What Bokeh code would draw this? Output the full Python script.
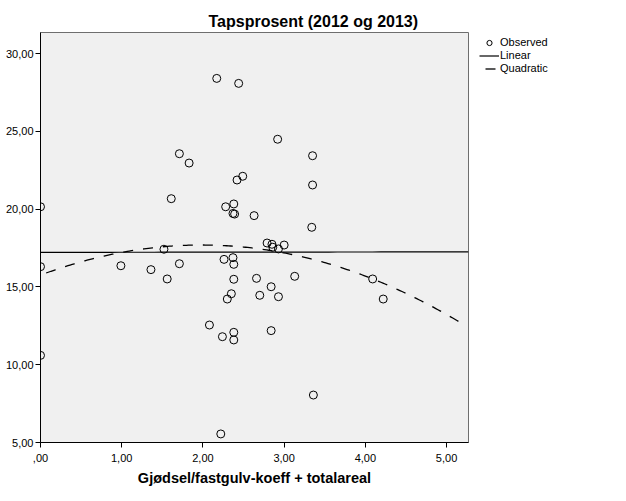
import numpy as np
from bokeh.plotting import figure
from bokeh.layouts import row
from bokeh.models import (Range1d, FixedTicker, Legend, LegendItem, ColumnDataSource)
from bokeh.embed import file_html
from bokeh.resources import INLINE

# ---- data ----
x_obs = [2.17, 2.44, 1.71, 1.83, 2.49, 2.42, 0.00, 1.61, 2.28, 2.38,
         2.37, 2.39, 1.52, 2.92, 3.35, 3.35, 2.63, 3.34, 2.79, 2.85,
         2.86, 2.93, 3.00, 0.00, 0.99, 1.36, 1.56, 1.71, 2.26, 2.37,
         2.38, 2.38, 2.35, 2.30, 2.08, 2.24, 2.38, 2.38, 0.00, 2.22,
         2.66, 2.84, 3.13, 2.70, 2.93, 4.09, 4.22, 2.84, 3.36]
y_obs = [28.40, 28.08, 23.56, 22.96, 22.11, 21.87, 20.15, 20.67, 20.15, 20.33,
         19.72, 19.68, 17.42, 24.49, 23.43, 21.55, 19.58, 18.83, 17.82, 17.74,
         17.55, 17.44, 17.69, 16.30, 16.36, 16.11, 15.51, 16.49, 16.77, 16.88,
         16.45, 15.49, 14.56, 14.22, 12.55, 11.80, 12.08, 11.59, 10.60, 5.55,
         15.55, 15.01, 15.68, 14.46, 14.37, 15.51, 14.22, 12.19, 8.05]

linear_coef = [17.22, 0.006]            # intercept, slope
quad_coef = [15.76, 1.948, -0.491]      # b0, b1, b2
linear_span = [0.0, 5.27]
quad_span = [0.0, 5.18]

x_ticks = [0, 1, 2, 3, 4, 5]
x_tick_labels = [",00", "1,00", "2,00", "3,00", "4,00", "5,00"]
y_ticks = [5, 10, 15, 20, 25, 30]
y_tick_labels = ["5,00", "10,00", "15,00", "20,00", "25,00", "30,00"]

title_text = "Tapsprosent (2012 og 2013)"
x_label = "Gjødsel/fastgulv-koeff + totalareal"
legend_labels = ["Observed", "Linear", "Quadratic"]

FONT = "Liberation Sans"
H = 490

p = figure(frame_width=428, frame_height=410, output_backend="svg",
           toolbar_location=None,
           x_range=Range1d(0, 5.27), y_range=Range1d(5, 31.35),
           min_border_left=40, min_border_right=2, min_border_top=32,
           min_border_bottom=H - 32 - 410)

p.background_fill_color = "#F0F0F0"
p.border_fill_color = "white"
p.outline_line_color = "#6e6e6e"
p.outline_line_width = 1
p.grid.visible = False

# title
p.title.text = title_text
p.title.text_font = FONT
p.title.text_font_size = "16px"
p.title.text_font_style = "bold"
p.title.text_color = "black"
p.title.align = "left"
p.title.offset = 168
p.title.standoff = 5

# axes
for ax in (p.xaxis[0], p.yaxis[0]):
    ax.axis_line_color = "black"
    ax.axis_line_width = 1
    ax.major_tick_line_color = "black"
    ax.major_tick_out = 5
    ax.major_tick_in = 0
    ax.minor_tick_line_color = None
    ax.major_label_text_font = FONT
    ax.major_label_text_font_size = "11px"
    ax.major_label_text_color = "black"
    ax.major_label_standoff = 2

p.xaxis.ticker = FixedTicker(ticks=x_ticks)
p.xaxis.major_label_overrides = {t: l for t, l in zip(x_ticks, x_tick_labels)}
p.yaxis.ticker = FixedTicker(ticks=y_ticks)
p.yaxis.major_label_overrides = {t: l for t, l in zip(y_ticks, y_tick_labels)}
p.xaxis.major_label_standoff = 6

p.xaxis.axis_label = x_label
p.xaxis.axis_label_text_font = FONT
p.xaxis.axis_label_text_font_size = "14.5px"
p.xaxis.axis_label_text_font_style = "bold"
p.xaxis.axis_label_text_color = "black"
p.xaxis.axis_label_standoff = 5

# observed points
src = ColumnDataSource(dict(x=x_obs, y=y_obs))
p.scatter("x", "y", source=src, marker="circle", size=8,
          fill_color=None, line_color="black", line_width=1)

# linear fit
xl = np.linspace(linear_span[0], linear_span[1], 50)
yl = linear_coef[0] + linear_coef[1] * xl
lin_src = ColumnDataSource(dict(x=xl, y=yl))
p.line("x", "y", source=lin_src, line_color="black", line_width=1.2)

# quadratic fit
xq = np.linspace(quad_span[0], quad_span[1], 200)
yq = quad_coef[0] + quad_coef[1] * xq + quad_coef[2] * xq ** 2
quad_src = ColumnDataSource(dict(x=xq, y=yq))
p.line("x", "y", source=quad_src, line_color="black", line_width=1.3,
       line_dash="10 10", line_dash_offset=14)

# ---- legend panel (separate figure, so the legend is not clipped) ----
# its ranges lie outside the data, so its renderers only feed the legend
p2 = figure(width=140, height=H, output_backend="svg", toolbar_location=None,
            x_range=Range1d(-3, -2), y_range=Range1d(-3, -2),
            x_axis_type=None, y_axis_type=None,
            min_border_left=0, min_border_right=0, min_border_top=15,
            min_border_bottom=0)
p2.outline_line_color = None
p2.grid.visible = False
p2.background_fill_color = "white"
p2.border_fill_color = "white"

l_obs = p2.scatter("x", "y", source=src, marker="circle", size=8,
                   fill_color=None, line_color="black", line_width=1)
l_lin = p2.line("x", "y", source=lin_src, line_color="black", line_width=1.2)
l_quad = p2.line("x", "y", source=quad_src, line_color="black", line_width=1.3,
                 line_dash="10 10", line_dash_offset=14)

legend = Legend(items=[LegendItem(label=legend_labels[0], renderers=[l_obs]),
                       LegendItem(label=legend_labels[1], renderers=[l_lin]),
                       LegendItem(label=legend_labels[2], renderers=[l_quad])],
                location=(9, 367.5))
legend.border_line_color = None
legend.background_fill_alpha = 0
legend.label_text_font = FONT
legend.label_text_font_size = "11px"
legend.label_text_color = "black"
legend.glyph_width = 20
legend.glyph_height = 13
legend.label_height = 13
legend.spacing = 0
legend.padding = 2
legend.margin = 0
legend.label_standoff = 1
p2.add_layout(legend, "center")

open("out.html", "w").write(file_html(row(p, p2), INLINE))
